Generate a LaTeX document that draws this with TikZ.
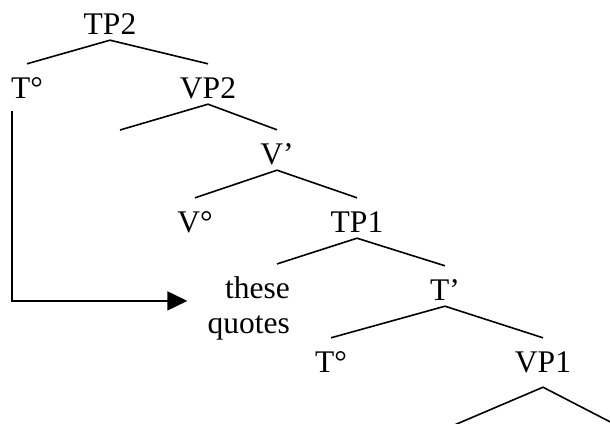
\documentclass[tikz,border=0pt]{standalone}
\usepackage{fontspec}
\setmainfont{Liberation Serif}
\usetikzlibrary{arrows.meta}

\begin{document}
\begin{tikzpicture}[x=1pt,y=-1pt,%
  cat/.style={font=\fontsize{31.5}{35}\selectfont,inner sep=0pt,anchor=base,%
    text height=34pt,text depth=6pt},%
  words/.style={font=\fontsize{31.5}{35}\selectfont,inner sep=0pt,align=right,%
    anchor=base east},%
  branch/.style={line width=1.6pt},%
  move/.style={line width=1.6pt,-{Triangle[length=20pt,width=19pt]}}%
]
\useasboundingbox (0,0) rectangle (610,423);
\clip (0,0) rectangle (610,423);
%%
%% Categories, top to bottom.
\node[cat] (tp2) at (110,34) {TP2};
\node[cat] (t2) at (27,98) {T°};
\node[cat] (vp2) at (208,98) {VP2};
\node[cat] (vbar) at (277,164) {V’};
\node[cat] (v) at (195,232) {V°};
\node[cat] (tp1) at (357,232) {TP1};
\node[words] (spec) at (290,333) {these\\quotes};
\node[cat] (tbar) at (445,300) {T’};
\node[cat] (t1) at (331,372) {T°};
\node[cat] (vp1) at (543,372) {VP1};
%% Empty daughters.
\coordinate (vp2spec) at (120,130);
\coordinate (vp1left) at (452,426);
\coordinate (vp1right) at (622,428);
%%
%% Branches.
\draw[branch] (t2.north) -- (tp2.south) -- (vp2.north);
\draw[branch] (vp2spec) -- (vp2.south) -- (vbar.north);
\draw[branch] (v.north) -- (vbar.south) -- (tp1.north);
\draw[branch] ([xshift=-13pt,yshift=12pt]spec.north east) -- (tp1.south)
  -- (tbar.north);
\draw[branch] (t1.north) -- (tbar.south) -- (vp1.north);
\draw[branch] (vp1left) -- ([yshift=-9pt]vp1.south) -- (vp1right);
%%
%% Movement of T.
\draw[move,shorten <=7pt,shorten >=20pt] ([xshift=1pt]t2.south west)
  |- ([yshift=7pt]spec.west);
\end{tikzpicture}
\end{document}
